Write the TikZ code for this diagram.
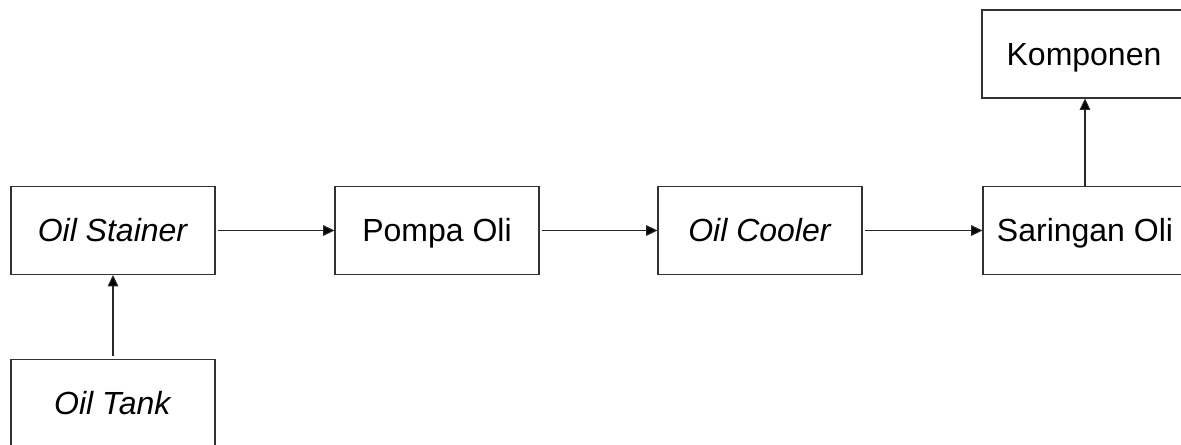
\documentclass[tikz,border=0pt]{standalone}
\usepackage{fontspec}
\setmainfont{Liberation Sans}
\usepackage{tikz}
\usetikzlibrary{arrows.meta}

\begin{document}
\begin{tikzpicture}[x=0.75pt,y=0.75pt,yscale=-1,xscale=1,
    blok/.style={draw={rgb,255:red,50;green,50;blue,50}, line width=0.8pt, fill=white,
        minimum width=153pt, minimum height=66pt, inner sep=0pt,
        text height=17pt, text depth=0pt,
        font=\fontsize{24}{28}\selectfont},
    alur/.style={draw={rgb,255:red,40;green,40;blue,40}, line width=0.8pt,
        -{Triangle[length=8.5pt,width=8pt,fill=black]}, shorten <=2pt}]
    %set diagram size
    \useasboundingbox (0,0) rectangle (1181,444);
    \clip (0,0) rectangle (1181,444);

    %Shape: Rectangle [id:stainer]
    \node [blok] (stainer) at (113,230.5) {\textit{Oil Stainer}};
    %Shape: Rectangle [id:pompa]
    \node [blok] (pompa) at (437,230.5) {Pompa Oli};
    %Shape: Rectangle [id:cooler]
    \node [blok] (cooler) at (760,230.5) {\textit{Oil Cooler}};
    %Shape: Rectangle [id:saringan]
    \node [blok] (saringan) at (1085,230.5) {Saringan Oli};
    %Shape: Rectangle [id:komponen]
    \node [blok] (komponen) at (1084,54) {Komponen};
    %Shape: Rectangle [id:tank]
    \node [blok] (tank) at (113,403.5) {\textit{Oil Tank}};

    %Straight Lines
    \draw [alur] (tank.north) -- (stainer.south);
    \draw [alur] (stainer.east) -- (pompa.west);
    \draw [alur] (pompa.east) -- (cooler.west);
    \draw [alur] (cooler.east) -- (saringan.west);
    \draw [alur, shorten <=0pt] (saringan.north) -- (komponen.south -| saringan.north);

\end{tikzpicture}
\end{document}
